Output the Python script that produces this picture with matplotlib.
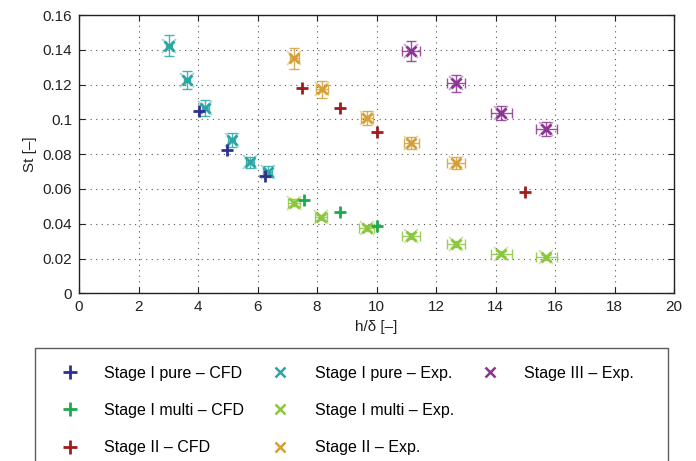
import matplotlib
matplotlib.use("Agg")
import matplotlib.pyplot as plt
from matplotlib.lines import Line2D

# ---- data ----
pure_cfd_x = [4.02, 4.97, 6.24]
pure_cfd_y = [0.105, 0.0824, 0.0676]

multi_cfd_x = [7.55, 8.76, 10.02]
multi_cfd_y = [0.0536, 0.0466, 0.0389]

s2_cfd_x = [7.51, 8.76, 10.02, 15.0]
s2_cfd_y = [0.1182, 0.1063, 0.0929, 0.058]

pure_exp_x = [3.04, 3.63, 4.24, 5.14, 5.75, 6.35]
pure_exp_y = [0.1423, 0.1226, 0.1067, 0.0881, 0.0753, 0.0699]
pure_exp_xerr = [0.1, 0.1, 0.12, 0.12, 0.12, 0.15]
pure_exp_yerr = [0.006, 0.005, 0.0045, 0.004, 0.003, 0.003]

multi_exp_x = [7.24, 8.14, 9.67, 11.17, 12.67, 14.2, 15.71]
multi_exp_y = [0.0521, 0.0437, 0.0375, 0.0329, 0.0283, 0.0228, 0.0207]
multi_exp_xerr = [0.2, 0.2, 0.25, 0.3, 0.3, 0.35, 0.35]
multi_exp_yerr = [0.002, 0.0015, 0.0015, 0.0015, 0.0015, 0.0015, 0.0015]

s2_exp_x = [7.23, 8.17, 9.67, 11.17, 12.67]
s2_exp_y = [0.1351, 0.1173, 0.1006, 0.0862, 0.0747]
s2_exp_xerr = [0.15, 0.2, 0.2, 0.25, 0.3]
s2_exp_yerr = [0.006, 0.005, 0.004, 0.0035, 0.0035]

s3_exp_x = [11.17, 12.67, 14.2, 15.71]
s3_exp_y = [0.1393, 0.1207, 0.1038, 0.0943]
s3_exp_xerr = [0.3, 0.3, 0.35, 0.35]
s3_exp_yerr = [0.0058, 0.005, 0.004, 0.004]

NAVY, TEAL, GREEN, LIME = "#2e3192", "#2aa7a4", "#1ea84f", "#8cc63f"
RED, GOLD, PURPLE = "#9e1b20", "#d4a035", "#8c3494"

plt.rcParams["font.family"] = ["Liberation Sans", "DejaVu Sans"]

fig = plt.figure(figsize=(6.96, 4.61), dpi=100)
ax = fig.add_axes([79 / 696, 1 - 293.3 / 461, (674 - 79) / 696, (293.3 - 15) / 461])


def exp_series(x, y, xerr, yerr, col, label):
    ax.errorbar(x, y, xerr=xerr, yerr=yerr, fmt="none", ecolor=col,
                elinewidth=1.0, capsize=3.5, capthick=1.0, alpha=0.85, zorder=3)
    ax.plot(x, y, ls="none", marker="x", ms=10, mew=1.3, color=col, alpha=0.45, zorder=3)
    ax.plot(x, y, ls="none", marker="x", ms=7.5, mew=2.0, color=col, zorder=4)
    return Line2D([], [], ls="none", marker="x", ms=7, mew=1.8, color=col, label=label)


def cfd_series(x, y, col, label):
    ax.plot(x, y, ls="none", marker="+", ms=9, mew=2.0, color=col, zorder=5)
    return Line2D([], [], ls="none", marker="+", ms=10, mew=2.0, color=col, label=label)


h_pure_cfd = cfd_series(pure_cfd_x, pure_cfd_y, NAVY, "Stage I pure – CFD")
h_multi_cfd = cfd_series(multi_cfd_x, multi_cfd_y, GREEN, "Stage I multi – CFD")
h_s2_cfd = cfd_series(s2_cfd_x, s2_cfd_y, RED, "Stage II – CFD")
h_pure_exp = exp_series(pure_exp_x, pure_exp_y, pure_exp_xerr, pure_exp_yerr, TEAL, "Stage I pure – Exp.")
h_multi_exp = exp_series(multi_exp_x, multi_exp_y, multi_exp_xerr, multi_exp_yerr, LIME, "Stage I multi – Exp.")
h_s2_exp = exp_series(s2_exp_x, s2_exp_y, s2_exp_xerr, s2_exp_yerr, GOLD, "Stage II – Exp.")
h_s3_exp = exp_series(s3_exp_x, s3_exp_y, s3_exp_xerr, s3_exp_yerr, PURPLE, "Stage III – Exp.")

ax.set_xlim(0, 20)
ax.set_ylim(0, 0.16)
ax.set_xticks(range(0, 21, 2))
ax.set_yticks([0, 0.02, 0.04, 0.06, 0.08, 0.1, 0.12, 0.14, 0.16])
ax.set_yticklabels(["0", "0.02", "0.04", "0.06", "0.08", "0.1", "0.12", "0.14", "0.16"])
ax.grid(True, color="#555555", linestyle=(0, (1, 4)), linewidth=0.8)
ax.tick_params(direction="in", top=True, right=True, labelsize=11, colors="#222222",
               length=4, pad=5)
for s in ax.spines.values():
    s.set_color("#222222")
    s.set_linewidth(1.0)
ax.set_xlabel("h/δ [–]", fontsize=11, color="#222222", labelpad=4)
ax.set_ylabel("St [–]", fontsize=11, color="#222222", labelpad=4)

# empty slots keep the third legend column to one entry, padded wider
blank = Line2D([], [], ls="none")
pad_label = " " * 28
handles = [h_pure_cfd, h_multi_cfd, h_s2_cfd,
           h_pure_exp, h_multi_exp, h_s2_exp,
           h_s3_exp, blank, blank]
labels = [h.get_label() for h in handles[:7]] + [pad_label, pad_label]
leg = fig.legend(handles=handles, labels=labels,
                 ncol=3, loc="upper left", bbox_to_anchor=(35 / 696, 1 - 348 / 461),
                 fontsize=11.5, frameon=True, fancybox=False, edgecolor="#333333",
                 labelspacing=1.4, handlelength=2.2, handletextpad=1.05,
                 columnspacing=1.15, borderpad=1.1, borderaxespad=0)
leg.get_frame().set_linewidth(1.0)

fig.savefig("out.png", dpi=100)
